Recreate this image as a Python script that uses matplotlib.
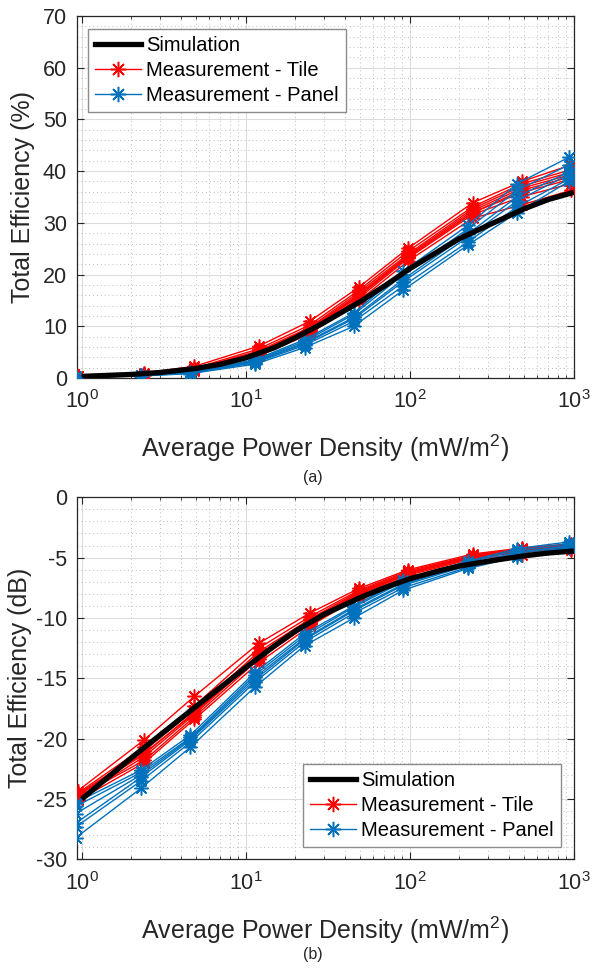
import matplotlib
matplotlib.use('Agg')
import matplotlib.pyplot as plt
from matplotlib.lines import Line2D
from matplotlib.ticker import MultipleLocator, LogLocator, NullFormatter
import numpy as np

# Data (efficiency in dB; panel (a) is the same data in %)
sim_x = [1, 2, 3, 5, 7, 10, 15, 20, 30, 50, 70, 100, 150, 200, 300, 500, 700, 1000]
sim_db = [-25.0, -21.6, -19.7, -17.3, -15.75, -14.1, -12.3, -11.1, -9.7, -8.3,
          -7.5, -6.75, -6.1, -5.7, -5.3, -4.85, -4.62, -4.45]

tile_x = [0.95, 2.4, 4.85, 12, 24.5, 49, 98, 242, 484, 965]
tile_db = [
    [-24.3, -20.1, -16.5, -12.1, -9.6, -7.55, -6.0, -4.7, -4.2, -3.85],
    [-24.5, -20.7, -17.3, -12.5, -9.9, -7.7, -6.1, -4.8, -4.25, -3.95],
    [-24.6, -21.0, -17.6, -12.8, -10.1, -7.8, -6.2, -4.85, -4.3, -4.0],
    [-24.7, -21.3, -17.8, -13.0, -10.2, -7.9, -6.25, -4.9, -4.35, -4.05],
    [-24.9, -21.5, -18.0, -13.2, -10.4, -8.0, -6.3, -4.95, -4.45, -4.15],
    [-24.8, -21.8, -18.2, -13.4, -10.5, -8.1, -6.35, -5.0, -4.55, -4.25],
    [-25.1, -22.0, -18.4, -13.7, -10.7, -8.25, -6.45, -5.1, -4.75, -4.4],
    [-24.6, -21.2, -17.9, -13.1, -10.3, -7.95, -6.3, -4.95, -4.4, -4.1],
]

panel_x = [0.92, 2.3, 4.6, 11.4, 22.8, 45.6, 91, 226, 452, 932]
panel_db = [
    [-25.3, -22.6, -19.7, -14.5, -11.3, -9.0, -6.85, -5.3, -4.25, -3.7],
    [-25.6, -22.8, -19.9, -14.7, -11.5, -9.1, -7.0, -5.4, -4.4, -3.85],
    [-26.2, -23.0, -20.0, -14.9, -11.7, -9.3, -7.2, -5.55, -4.55, -4.0],
    [-27.0, -23.2, -20.1, -15.1, -11.8, -9.4, -7.3, -5.65, -4.65, -4.05],
    [-27.3, -23.5, -20.3, -15.3, -12.0, -9.6, -7.5, -5.8, -4.8, -4.15],
    [-28.2, -24.1, -20.7, -15.7, -12.3, -10.0, -7.7, -5.9, -4.95, -4.2],
]

plt.rcParams['font.family'] = ['Liberation Sans', 'DejaVu Sans']
plt.rcParams['mathtext.fontset'] = 'custom'
plt.rcParams['mathtext.rm'] = 'Liberation Sans'
plt.rcParams['mathtext.it'] = 'Liberation Sans'
plt.rcParams['axes.unicode_minus'] = False
txt = '#262626'

red = '#FF0000'
blue = '#0072BD'
star = (8, 2, 0)  # MATLAB-like asterisk


def to_pct(db):
    return 100 * 10 ** (np.array(db) / 10)


def style_axes(ax, ylim, ystep, yminor):
    ax.set_xscale('log')
    ax.set_xlim(0.93, 1000)
    ax.set_ylim(*ylim)
    ax.yaxis.set_major_locator(MultipleLocator(ystep))
    ax.yaxis.set_minor_locator(MultipleLocator(yminor))
    ax.xaxis.set_major_locator(LogLocator(base=10, numticks=10))
    ax.xaxis.set_minor_locator(LogLocator(base=10, subs=np.arange(2, 10), numticks=10))
    ax.xaxis.set_minor_formatter(NullFormatter())
    ax.grid(which='major', color='#dcdcdc', linewidth=0.8, linestyle='-')
    ax.grid(which='minor', color='#bcbcbc', linewidth=0.7, linestyle=(0, (1, 3)))
    ax.set_axisbelow(True)
    ax.tick_params(which='both', direction='in', top=True, right=True, colors=txt)
    ax.tick_params(which='major', length=5, width=0.8, labelsize=15.5)
    ax.tick_params(which='minor', length=2.5, width=0.6)
    ax.tick_params(axis='x', which='major', pad=9)
    ax.tick_params(axis='y', which='major', pad=7)
    ax.tick_params(axis='y', which='minor', length=0)
    for s in ax.spines.values():
        s.set_color(txt)
        s.set_linewidth(0.9)
    ax.set_xlabel('Average Power Density (mW/m$^2$)', fontsize=18, color=txt, va='center')
    ax.xaxis.set_label_coords(0.5, -0.195)


def draw(ax, conv):
    for row in tile_db:
        ax.plot(tile_x, conv(row), color=red, lw=1.0, marker=star, ms=10, mew=1.1, zorder=3)
    for row in panel_db:
        ax.plot(panel_x, conv(row), color=blue, lw=1.0, marker=star, ms=10, mew=1.1, zorder=4)
    ax.plot(sim_x, conv(sim_db), color='black', lw=3.8, zorder=5, solid_capstyle='butt')


handles = [
    Line2D([], [], color='black', lw=3.8),
    Line2D([], [], color=red, lw=1.0, marker=star, ms=11, mew=1.1),
    Line2D([], [], color=blue, lw=1.0, marker=star, ms=11, mew=1.1),
]
labels = ['Simulation', 'Measurement - Tile', 'Measurement - Panel']

fig = plt.figure(figsize=(5.94, 9.68), dpi=100)
ax1 = fig.add_axes([0.129, 0.6095, 0.837, 0.374])
ax2 = fig.add_axes([0.129, 0.1122, 0.837, 0.3741])

draw(ax1, to_pct)
style_axes(ax1, (0, 70), 10, 2)
ax1.set_ylabel('Total Efficiency (%)', fontsize=18, color=txt, va='center')
ax1.yaxis.set_label_coords(-0.108, 0.5)

draw(ax2, lambda v: np.array(v))
style_axes(ax2, (-30, 0), 5, 1)
ax2.set_ylabel('Total Efficiency (dB)', fontsize=18, color=txt, va='center')
ax2.yaxis.set_label_coords(-0.114, 0.5)

leg_kw = dict(fontsize=14.5, fancybox=False, framealpha=1, edgecolor='#8c8c8c',
              handlelength=2.3, handletextpad=0.25, borderpad=0.35, labelspacing=0.3,
              borderaxespad=0)
l1 = ax1.legend(handles, labels, loc='upper left', bbox_to_anchor=(0.023, 0.964), **leg_kw)
l2 = ax2.legend(handles, labels, loc='lower right', bbox_to_anchor=(0.974, 0.034), **leg_kw)
for lg in (l1, l2):
    lg.get_frame().set_linewidth(1.0)
    for t in lg.get_texts():
        t.set_color('black')

fig.text(0.527, 1 - 478 / 968, '(a)', ha='center', va='center', fontsize=11.5, color=txt)
fig.text(0.527, 1 - 954 / 968, '(b)', ha='center', va='center', fontsize=11.5, color=txt)

fig.savefig('out.png', dpi=100)
